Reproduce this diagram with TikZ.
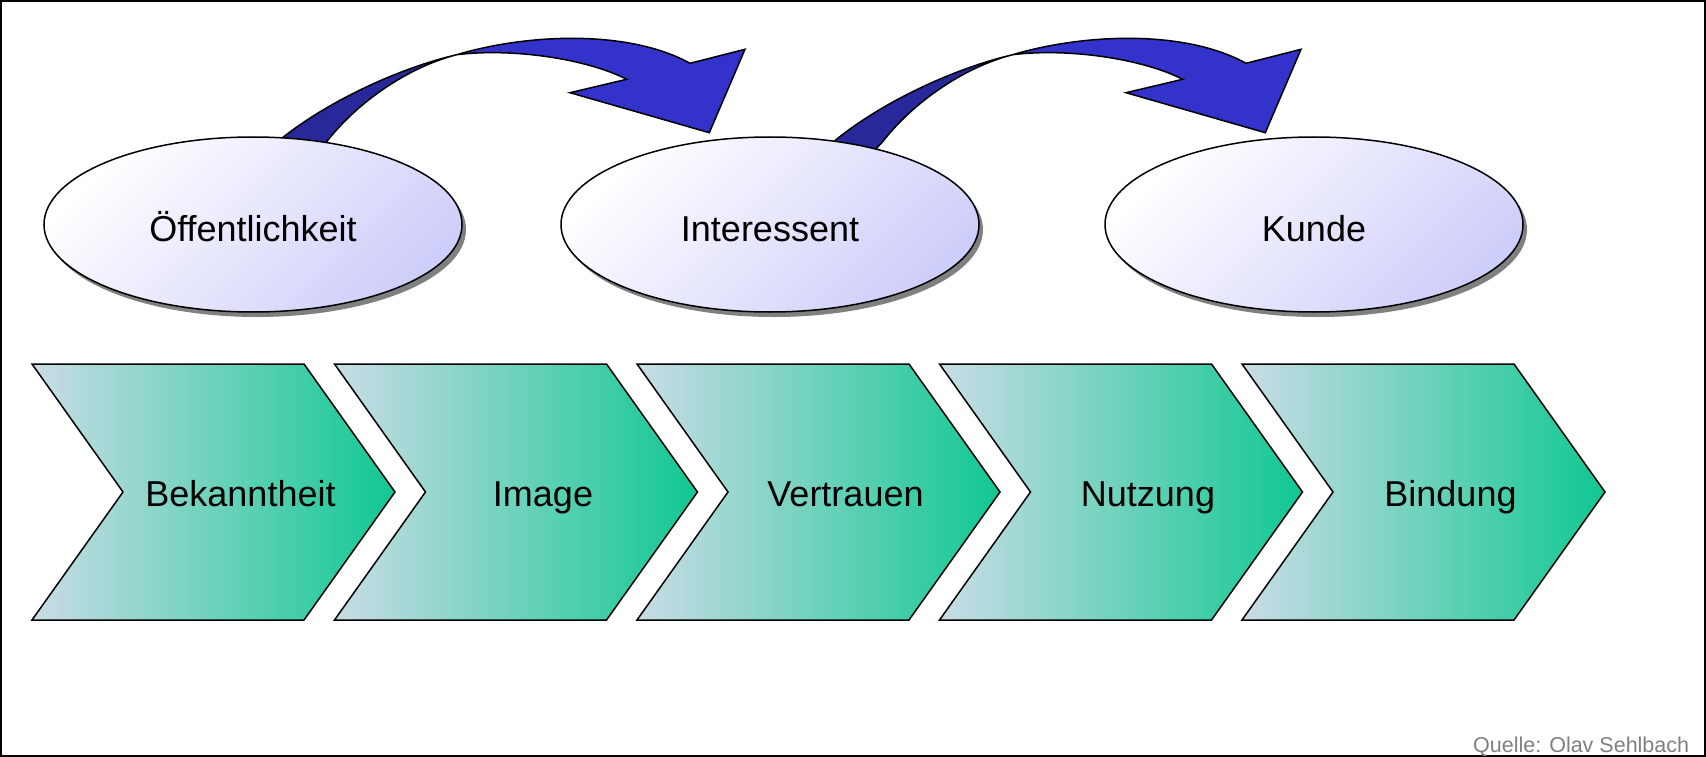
\documentclass[tikz,border=0pt]{standalone}
\usepackage{fontspec}
\setmainfont{Liberation Sans}
\usetikzlibrary{shapes.geometric,shadows}
\definecolor{lav}{RGB}{206,206,250}
\definecolor{chevL}{RGB}{202,220,230}
\definecolor{chevM}{RGB}{165,215,205}
\definecolor{chevR}{RGB}{16,200,145}
\definecolor{arrDark}{RGB}{40,40,155}
\definecolor{arrBlue}{RGB}{51,51,204}
\definecolor{srcgray}{RGB}{128,128,128}
\newcommand\flowarrow{%
  \path[arrback] (250,166) -- (281.7,138.3) .. controls (330,100) and (400,68) .. (456.7,54.7)
      .. controls (405,68) and (355,105) .. (326.7,141.7) -- (300,170) -- cycle;
  \path[arrfront] (456.7,54.7) .. controls (530,33) and (630,30) .. (690,63.3) -- (745,49.3)
      -- (709.3,132.7) -- (570,92.7) -- (626.7,79.3) .. controls (585,58) and (510,48) .. (456.7,54.7) -- cycle;
}
\begin{document}
\begin{tikzpicture}[x=1pt,y=-1pt,
  ell/.style={ellipse, draw=black, line width=1.5pt, minimum width=418pt, minimum height=175pt,
    inner sep=0pt, top color=white, bottom color=lav, shading angle=45,
    text height=33pt, text depth=0pt, font=\fontsize{36}{40}\selectfont,
    drop shadow={shadow xshift=4pt, shadow yshift=-5pt, fill=black!50, opacity=1}},
  lbl/.style={font=\fontsize{36}{40}\selectfont, inner sep=0pt},
  chevshape/.style={draw=black, line width=1.5pt, line join=miter, left color=chevL, middle color=chevM, right color=chevR},
  arrback/.style={fill=arrDark, draw=black, line width=1.5pt, line join=round},
  arrfront/.style={fill=arrBlue, draw=black, line width=1.5pt, line join=miter},
]
\useasboundingbox (0,0) rectangle (1706,757);
\fill[white] (0,0) rectangle (1706,757);

% curved arrows
\begin{scope}\flowarrow\end{scope}
\begin{scope}[xshift=556pt]\flowarrow\end{scope}

% ellipses
\node[ell] (oef) at (253,224.5) {Öffentlichkeit};
\node[ell] (int) at (770,224.5) {Interessent};
\node[ell] (kun) at (1314,224.5) {Kunde};

% chevrons
\foreach \i/\t/\nm in {0/Bekanntheit/bek, 1/Image/img, 2/Vertrauen/ver, 3/Nutzung/nut, 4/Bindung/bin} {
  \pgfmathsetmacro\L{32+302.5*\i}
  \path[chevshape] (\L,364) -- (\L+272,364) -- (\L+363,492) -- (\L+272,620) -- (\L,620) -- (\L+91,492) -- cycle;
  \node[lbl, anchor=base] (\nm) at (\L+208.5,506) {\t};
}

% frame and source
\draw[line width=1.5pt] (1,1) rectangle (1705,756);
\node[font=\fontsize{21.5}{24}\selectfont, text=srcgray, anchor=base west, inner sep=0pt] (src) at (1473,752) {Quelle: Olav Sehlbach};
\end{tikzpicture}
\end{document}
